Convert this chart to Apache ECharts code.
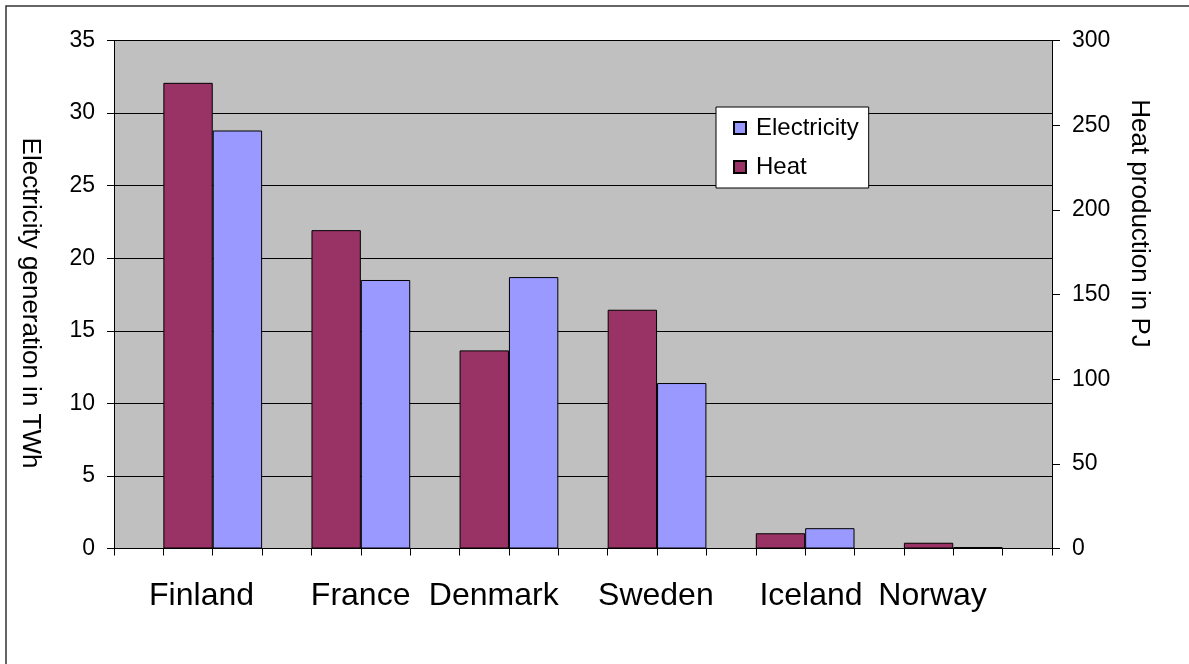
<!DOCTYPE html>
<html>
<head>
<meta charset="utf-8">
<script src="https://cdn.jsdelivr.net/npm/echarts@6/dist/echarts.min.js"></script>
<style>
  html, body { margin: 0; padding: 0; background: #fff; }
  #chart { width: 1189px; height: 664px; }
</style>
</head>
<body>
<div id="chart"></div>
<script>
// Combined heat and power output by country
const countries   = ['Finland', 'France', 'Denmark', 'Sweden', 'Iceland', 'Norway'];
const electricity = [28.8, 18.5, 18.7, 11.4, 1.4, 0.1];   // TWh (left axis)
const heat        = [275, 188, 117, 141, 9, 3.4];          // PJ  (right axis)
const leftTicks   = { min: 0, max: 35, interval: 5 };
const rightTicks  = { min: 0, max: 300, interval: 50 };

// Each country takes three slots on the category axis: gap, heat, electricity
const SLOTS_PER_COUNTRY = 3;
const slotCount = countries.length * SLOTS_PER_COUNTRY + 1;
const slots = [];
const heatSlots = [];
const elecSlots = [];
for (let i = 0; i < slotCount; i++) {
  slots.push('s' + i);
  heatSlots.push('-');
  elecSlots.push('-');
}
countries.forEach((c, k) => {
  heatSlots[k * SLOTS_PER_COUNTRY + 1] = heat[k];
  elecSlots[k * SLOTS_PER_COUNTRY + 2] = electricity[k];
});

const font = 'Liberation Sans, Arial, sans-serif';

// Horizontal nudge of each country name (left padding, px)
const labelShift = [27, 49, 19, 47, 61, 8];
const rich = {};
labelShift.forEach((p, k) => {
  rich['c' + k] = {
    fontSize: 32, fontFamily: font, color: '#000', padding: [0, 0, 0, p]
  };
});

const chart = echarts.init(document.getElementById('chart'), null, { renderer: 'canvas' });

chart.setOption({
  animation: false,
  backgroundColor: '#fff',
  textStyle: { fontFamily: font, color: '#000' },
  graphic: [{
    type: 'rect',
    shape: { x: 6, y: 6, width: 1300, height: 800 },
    style: { fill: 'none', stroke: '#333', lineWidth: 1.5 },
    silent: true
  }],
  grid: {
    left: 114, right: 137, top: 40.5, bottom: 115.5,
    show: true, backgroundColor: '#C0C0C0', borderWidth: 0
  },
  legend: {
    data: ['Electricity', 'Heat'],
    orient: 'vertical',
    left: 716, top: 107,
    backgroundColor: '#fff',
    borderColor: '#000', borderWidth: 1,
    padding: [9, 10, 9, 17],
    itemWidth: 12, itemHeight: 12, itemGap: 15,
    icon: 'rect',
    textStyle: { fontSize: 24, fontFamily: font, color: '#000', padding: [0, 0, 0, 5] }
  },
  xAxis: {
    type: 'category',
    data: slots,
    boundaryGap: true,
    axisLine: { show: true, lineStyle: { color: '#000', width: 1 } },
    axisTick: { show: true, interval: 0, length: 7, lineStyle: { color: '#000' } },
    axisLabel: {
      interval: 0,
      margin: 32,
      rich: rich,
      formatter: (v, i) => {
        if (i % SLOTS_PER_COUNTRY === 1) {
          const k = (i - 1) / SLOTS_PER_COUNTRY;
          return '{c' + k + '|' + countries[k] + '}';
        }
        return '';
      }
    },
    splitLine: { show: false }
  },
  yAxis: [{
    type: 'value',
    position: 'left',
    min: leftTicks.min, max: leftTicks.max, interval: leftTicks.interval,
    name: 'Electricity generation in TWh',
    nameLocation: 'middle',
    nameRotate: -90,
    nameGap: 71,
    nameTextStyle: { fontSize: 26, fontFamily: font, color: '#000', padding: [0, 0, 0, 17] },
    axisLine: { show: true, lineStyle: { color: '#000', width: 1 } },
    axisTick: { show: true, length: 7, lineStyle: { color: '#000' } },
    axisLabel: { fontSize: 23, fontFamily: font, color: '#000', margin: 19 },
    splitLine: { show: true, lineStyle: { color: '#000', width: 1 } }
  }, {
    type: 'value',
    position: 'right',
    min: rightTicks.min, max: rightTicks.max, interval: rightTicks.interval,
    name: 'Heat production in PJ',
    nameLocation: 'middle',
    nameRotate: -90,
    nameGap: 74,
    nameTextStyle: { fontSize: 26, fontFamily: font, color: '#000', padding: [0, 142, 0, 0] },
    axisLine: { show: true, lineStyle: { color: '#000', width: 1 } },
    axisTick: { show: true, length: 8, lineStyle: { color: '#000' } },
    axisLabel: { fontSize: 23, fontFamily: font, color: '#000', margin: 20 },
    splitLine: { show: false }
  }],
  series: [{
    name: 'Heat',
    type: 'bar',
    yAxisIndex: 1,
    data: heatSlots,
    barGap: '-100%',
    barCategoryGap: '0%',
    itemStyle: { color: '#993366', borderColor: '#000', borderWidth: 1 }
  }, {
    name: 'Electricity',
    type: 'bar',
    yAxisIndex: 0,
    data: elecSlots,
    barGap: '-100%',
    barCategoryGap: '0%',
    itemStyle: { color: '#9999FF', borderColor: '#000', borderWidth: 1 }
  }]
});
</script>
</body>
</html>
